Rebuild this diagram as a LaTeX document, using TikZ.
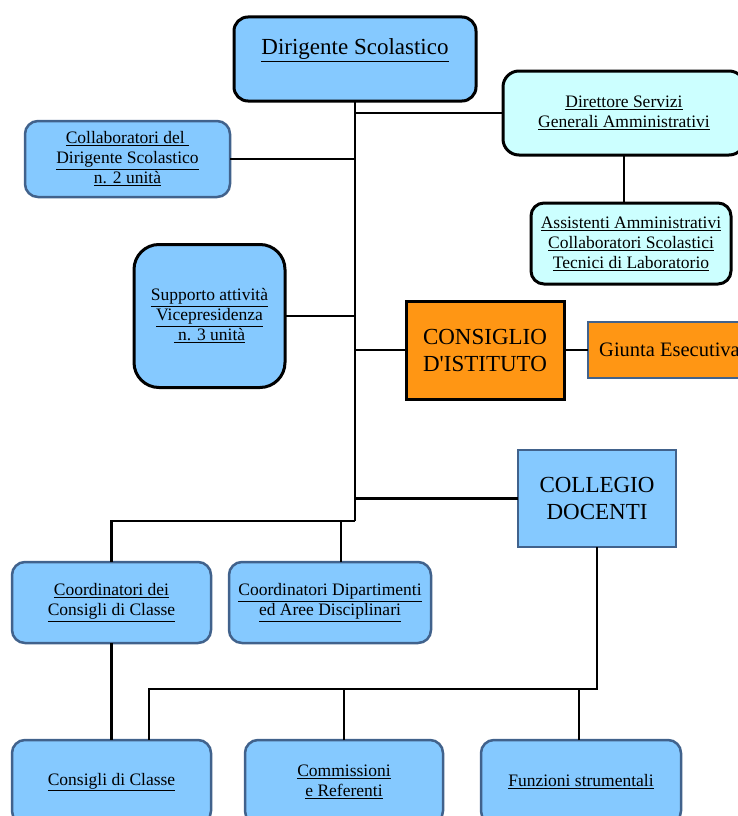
\documentclass[tikz,border=0pt]{standalone}
\usepackage{fontspec}
\setmainfont{Liberation Serif}
\usetikzlibrary{positioning}
\definecolor{boxblue}{RGB}{133,201,255}
\definecolor{boxcyan}{RGB}{204,255,255}
\definecolor{boxorange}{RGB}{255,150,20}
\definecolor{edgeblue}{RGB}{65,98,140}
\newcommand{\udl}[1]{\underline{#1}}

\begin{document}
\begin{tikzpicture}[x=1pt,y=-1pt,
  box/.style={draw=edgeblue,line width=2.5pt,fill=boxblue,rounded corners=13pt,
    align=center,inner sep=2pt,outer sep=0pt,font=\fontsize{17.5}{20}\selectfont},
  blackbox/.style={box,draw=black,line width=3pt},
  bigbox/.style={box,rounded corners=0pt,font=\fontsize{23}{27}\selectfont},
  link/.style={draw=black,line width=2.5pt}]
  \useasboundingbox (0,0) rectangle (738,816);
  \node[blackbox,minimum width=242pt,minimum height=84pt,rounded corners=14pt,
    font=\fontsize{23}{24}\selectfont] (dirigente) at (355,59) {\udl{Dirigente Scolastico}\\ \mbox{}};
  \node[box,minimum width=205pt,minimum height=76pt] (collab) at (127.5,159)
    {\udl{Collaboratori del }\\ \udl{Dirigente Scolastico}\\ \udl{n. 2 unità}};
  \node[blackbox,fill=boxcyan,minimum width=242pt,minimum height=84pt,rounded corners=16pt] (direttore) at (624,113)
    {\udl{Direttore Servizi}\\ \udl{Generali Amministrativi}};
  \node[blackbox,fill=boxcyan,minimum width=200pt,minimum height=81pt] (assistenti) at (631,243.5)
    {\udl{Assistenti Amministrativi}\\ \udl{Collaboratori Scolastici}\\ \udl{Tecnici di Laboratorio}};
  \node[blackbox,minimum width=151pt,minimum height=143pt,rounded corners=25pt] (supporto) at (209.5,316)
    {\udl{Supporto attività}\\ \udl{Vicepresidenza}\\ \udl{\ n. 3 unità}};
  \node[bigbox,draw=black,line width=3pt,fill=boxorange,minimum width=158pt,minimum height=98pt] (consiglio) at (485,350)
    {CONSIGLIO\\ D\textquotesingle ISTITUTO};
  \node[bigbox,fill=boxorange,minimum width=157pt,minimum height=56pt,font=\fontsize{20.5}{24}\selectfont]
    (giunta) [right=24pt of consiglio] {\hspace{6pt}Giunta Esecutiva};
  \node[bigbox,minimum width=158pt,minimum height=97pt] (collegio) at (597,498.5) {COLLEGIO\\ DOCENTI};
  \node[box,minimum width=199pt,minimum height=81pt] (coorcons) at (111.5,602.5)
    {\udl{Coordinatori dei}\\ \udl{Consigli di Classe}};
  \node[box,minimum width=202pt,minimum height=81pt] (coordip) at (330,602.5)
    {\udl{Coordinatori Dipartimenti}\\ \udl{ed Aree Disciplinari}};
  \node[box,minimum width=199pt,minimum height=84pt] (consigli) at (111.5,782) {\udl{Consigli di Classe}};
  \node[box,minimum width=198pt,minimum height=84pt] (commissioni) [right=34pt of consigli]
    {\udl{Commissioni}\\ \udl{e Referenti}};
  \node[box,minimum width=200pt,minimum height=84pt] (funzioni) [right=38pt of commissioni]
    {\udl{Funzioni strumentali}};

  \coordinate (trunk) at (355,521);
  \coordinate (busR) at (597,689);
  \coordinate (busL) at (149,689);

  \draw[link] (dirigente.south) -- (trunk);
  \draw[link] (collab.east) -- (collab.east -| trunk);
  \draw[link] (direttore.west) -- (direttore.west -| trunk);
  \draw[link] (direttore.south) -- (direttore.south |- assistenti.north);
  \draw[link] (supporto.east) -- (supporto.east -| trunk);
  \draw[link] (consiglio.west) -- (consiglio.west -| trunk);
  \draw[link] (consiglio.east) -- (giunta.west);
  \draw[link] (collegio.west) -- (collegio.west -| trunk);
  \draw[link] (trunk) -- (trunk -| coorcons.north) -- (coorcons.north);
  \draw[link] ([xshift=11pt]coordip.north) -- ([xshift=11pt]coordip.north |- trunk);
  \draw[link] (coorcons.south) -- (consigli.north);
  \draw[link] (collegio.south) -- (busR) -- (busL) -- (busL |- consigli.north);
  \draw[link] (commissioni.north) -- (commissioni.north |- busL);
  \draw[link] ([xshift=-2pt]funzioni.north) -- ([xshift=-2pt]funzioni.north |- busL);
\end{tikzpicture}
\end{document}
